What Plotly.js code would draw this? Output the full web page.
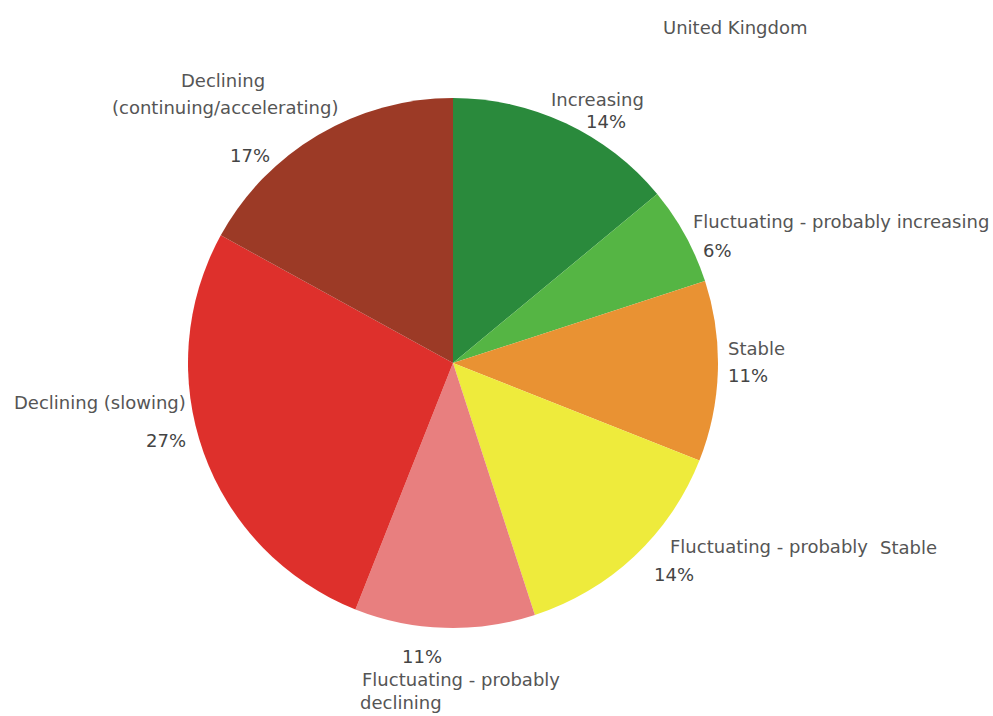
<!DOCTYPE html>
<html>
<head>
<meta charset="utf-8">
<script src="https://cdn.plot.ly/plotly-3.0.1.min.js"></script>
<style>html,body{margin:0;padding:0;background:#fff;}#chart{width:993px;height:716px;}</style>
</head>
<body>
<div id="chart"></div>
<script>
// Data
const categories = [
  "Increasing",
  "Fluctuating - probably increasing",
  "Stable",
  "Fluctuating - probably Stable",
  "Fluctuating - probably declining",
  "Declining (slowing)",
  "Declining (continuing/accelerating)"
];
const shares = [14, 6, 11, 14, 11, 27, 17];
const sliceColors = ["#2a8a3c", "#55b544", "#e99233", "#eeeb3c", "#e87f7f", "#de302c", "#9c3a26"];
const chartTitle = "United Kingdom";

const W = 993, H = 716;
const px = x => x / W;
const py = y => 1 - y / H;

const FONT = "DejaVu Sans, Verdana, sans-serif";
const labelFont = {family: FONT, size: 18, color: "#555"};
const pctFont = {family: FONT, size: 18, color: "#444"};

// category label pieces (lines) placed around the pie
const labelLines = [
  {t: "Declining", x: 223, y: 80},
  {t: "(continuing/accelerating)", x: 225, y: 107},
  {t: "Increasing", x: 597, y: 99},
  {t: "Fluctuating - probably increasing", x: 841, y: 221},
  {t: "Stable", x: 756, y: 348},
  {t: "Fluctuating - probably", x: 769, y: 546},
  {t: "Stable", x: 908, y: 547},
  {t: "Fluctuating - probably", x: 461, y: 679},
  {t: "declining", x: 401, y: 702},
  {t: "Declining (slowing)", x: 100, y: 402}
];
// where each slice's percentage is written (one per category, same order)
const pctPos = [[606, 122], [717, 250], [748, 375], [674, 574], [422, 656], [166, 440], [250, 155]];

const total = shares.reduce((a, b) => a + b, 0);

const annotations = labelLines.map(l => ({
  text: l.t, x: px(l.x), y: py(l.y), xref: "paper", yref: "paper",
  xanchor: "center", yanchor: "middle", showarrow: false, font: labelFont
}));
shares.forEach((v, i) => {
  annotations.push({
    text: Math.round(v / total * 100) + "%",
    x: px(pctPos[i][0]), y: py(pctPos[i][1]), xref: "paper", yref: "paper",
    xanchor: "center", yanchor: "middle", showarrow: false, font: pctFont
  });
});
annotations.push({
  text: chartTitle, x: px(735), y: py(27), xref: "paper", yref: "paper",
  xanchor: "center", yanchor: "middle", showarrow: false,
  font: {family: FONT, size: 18, color: "#555"}
});

const trace = {
  type: "pie",
  labels: categories,
  values: shares,
  sort: false,
  direction: "clockwise",
  rotation: 0,
  marker: {colors: sliceColors, line: {width: 0}},
  textinfo: "none",
  automargin: false,
  domain: {x: [px(453 - 265), px(453 + 265)], y: [py(628), py(98)]},
  hoverinfo: "label+percent"
};

const layout = {
  width: W, height: H,
  margin: {l: 0, r: 0, t: 0, b: 0},
  paper_bgcolor: "#fff",
  showlegend: false,
  annotations: annotations
};

Plotly.newPlot("chart", [trace], layout, {displayModeBar: false, staticPlot: true});
</script>
</body>
</html>
